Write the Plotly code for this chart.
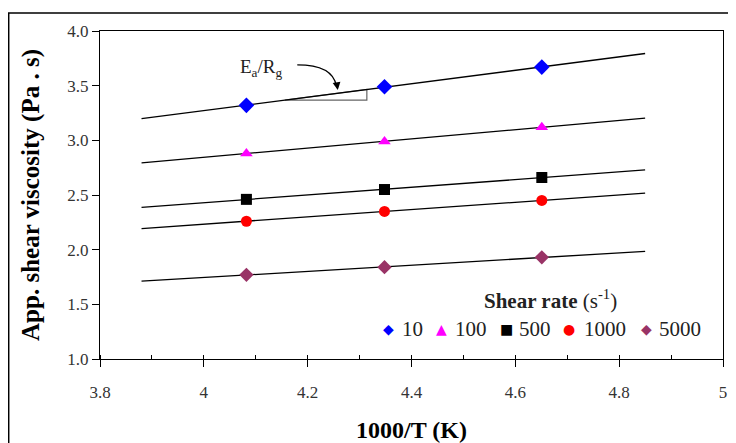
import numpy as np
import plotly.graph_objects as go

# ---- data ----
inv_T = [4.082, 4.348, 4.651]          # 1000/T (K)
series_names = ["10", "100", "500", "1000", "5000"]
visc_10 = [3.32, 3.49, 3.67]
visc_100 = [2.88, 2.99, 3.12]
visc_500 = [2.46, 2.55, 2.66]
visc_1000 = [2.26, 2.35, 2.45]
visc_5000 = [1.77, 1.84, 1.93]
trend_x = [3.88, 4.85]                  # trendline extent

series_values = [visc_10, visc_100, visc_500, visc_1000, visc_5000]
colors = ["#0000FF", "#FF00FF", "#000000", "#FF0000", "#993366"]
symbols = ["diamond", "triangle-up", "square", "circle", "diamond"]
sizes = [12, 11, 11, 11, 11]
legend_glyphs = ["\u25C6", "\u25B2", "\u25A0", "\u25CF", "\u25C6"]

FONT = "Liberation Serif"

# layout geometry (window pixels -> paper coords); page body has an 8px margin
L, R, T, B = 100, 723, 31, 359
def px(X):
    return (X - L) / (R - L)
def py(Y):
    return (B - Y) / (B - T)

fig = go.Figure()

# trend lines (least-squares fit of each series)
for vals in series_values:
    k, b = np.polyfit(inv_T, vals, 1)
    tx = np.array(trend_x)
    fig.add_trace(go.Scatter(x=tx, y=k * tx + b, mode="lines",
                             line=dict(color="black", width=1.3),
                             showlegend=False, hoverinfo="skip"))

for name, vals, c, s, sz in zip(series_names, series_values, colors, symbols, sizes):
    fig.add_trace(go.Scatter(x=inv_T, y=vals, mode="markers", name=name,
                             showlegend=False,
                             marker=dict(color=c, symbol=s, size=sz,
                                         line=dict(width=0))))

# slope triangle along the 10 s^-1 line
tri_x0, tri_x1 = 4.156, 4.314
k10, b10 = np.polyfit(inv_T, visc_10, 1)
y_lo = k10 * tri_x0 + b10
y_hi = k10 * tri_x1 + b10
fig.add_shape(type="path",
              path=f"M {tri_x0},{y_lo} L {tri_x1},{y_lo} L {tri_x1},{y_hi} Z",
              xref="x", yref="y", line=dict(color="#666666", width=1.2),
              fillcolor="white", layer="below")

# curved arrow
fig.add_shape(type="path", path="M 4.180,3.690 Q 4.248,3.690 4.255,3.50",
              xref="x", yref="y", line=dict(color="black", width=1.3))
fig.add_annotation(x=4.258, y=3.46, ax=4.256, ay=3.52, xref="x", yref="y",
                   axref="x", ayref="y", text="", showarrow=True,
                   arrowhead=2, arrowsize=1.2, arrowwidth=1.3, arrowcolor="black")
fig.add_annotation(x=px(261), y=py(68), xref="paper", yref="paper",
                   xanchor="center", yanchor="middle",
                   text="E<sub>a</sub>/R<sub>g</sub>", showarrow=False,
                   font=dict(family=FONT, size=19, color="#222222"))

# legend (title + items)
fig.add_annotation(x=px(550), y=py(299), xref="paper", yref="paper",
                   xanchor="center", yanchor="middle",
                   text="<b>Shear rate</b> (s<sup>-1</sup>)", showarrow=False,
                   font=dict(family=FONT, size=21, color="#222222"))
leg_sym_x = [388, 441, 506, 569, 646]
leg_txt_x = [400, 453, 517, 582, 657]
for g, c, name, sx, tx_ in zip(legend_glyphs, colors, series_names, leg_sym_x, leg_txt_x):
    fig.add_annotation(x=px(sx), y=py(329), xref="paper", yref="paper",
                       text=g, showarrow=False, xanchor="center", yanchor="middle",
                       font=dict(family="DejaVu Sans", size=14, color=c))
    fig.add_annotation(x=px(tx_), y=py(329), xref="paper", yref="paper",
                       text=name, showarrow=False, xanchor="left", yanchor="middle",
                       font=dict(family=FONT, size=21, color="#222222"))

# outer frame
fig.add_shape(type="rect", xref="paper", yref="paper",
              x0=px(8.7), x1=px(760), y0=py(480), y1=py(13),
              line=dict(color="black", width=1.5), fillcolor="rgba(0,0,0,0)")

axis_common = dict(showgrid=False, zeroline=False, showline=True,
                   linecolor="black", linewidth=1.4, mirror=True,
                   tickcolor="black", automargin=False)

fig.update_layout(
    width=728, height=435,
    margin=dict(l=L - 8, r=(736 - 8) - (R - 8), t=T - 8,
                b=(443 - 8) - (B - 8), autoexpand=False),
    paper_bgcolor="white", plot_bgcolor="white",
    font=dict(family=FONT, size=17, color="#333333"),
    showlegend=False,
    xaxis=dict(range=[3.8, 5.0], dtick=0.2, tick0=3.8,
               ticks="outside", ticklen=7, ticklabelstandoff=10,
               minor=dict(dtick=0.1, ticks="inside", ticklen=4,
                          tickcolor="black"),
               tickfont=dict(family=FONT, size=17, color="#333333"),
               title=dict(text="<b>1000/T (K)</b>", standoff=20,
                          font=dict(family=FONT, size=24, color="black")),
               **axis_common),
    yaxis=dict(range=[1.0, 4.0], dtick=0.5, tickformat=".1f",
               ticks="outside", ticklen=7,
               tickfont=dict(family=FONT, size=17, color="#333333"),
               title=dict(text="<b>App. shear viscosity (Pa . s)</b>", standoff=20,
                          font=dict(family=FONT, size=25, color="black")),
               **axis_common),
)

fig.write_html("out.html")
